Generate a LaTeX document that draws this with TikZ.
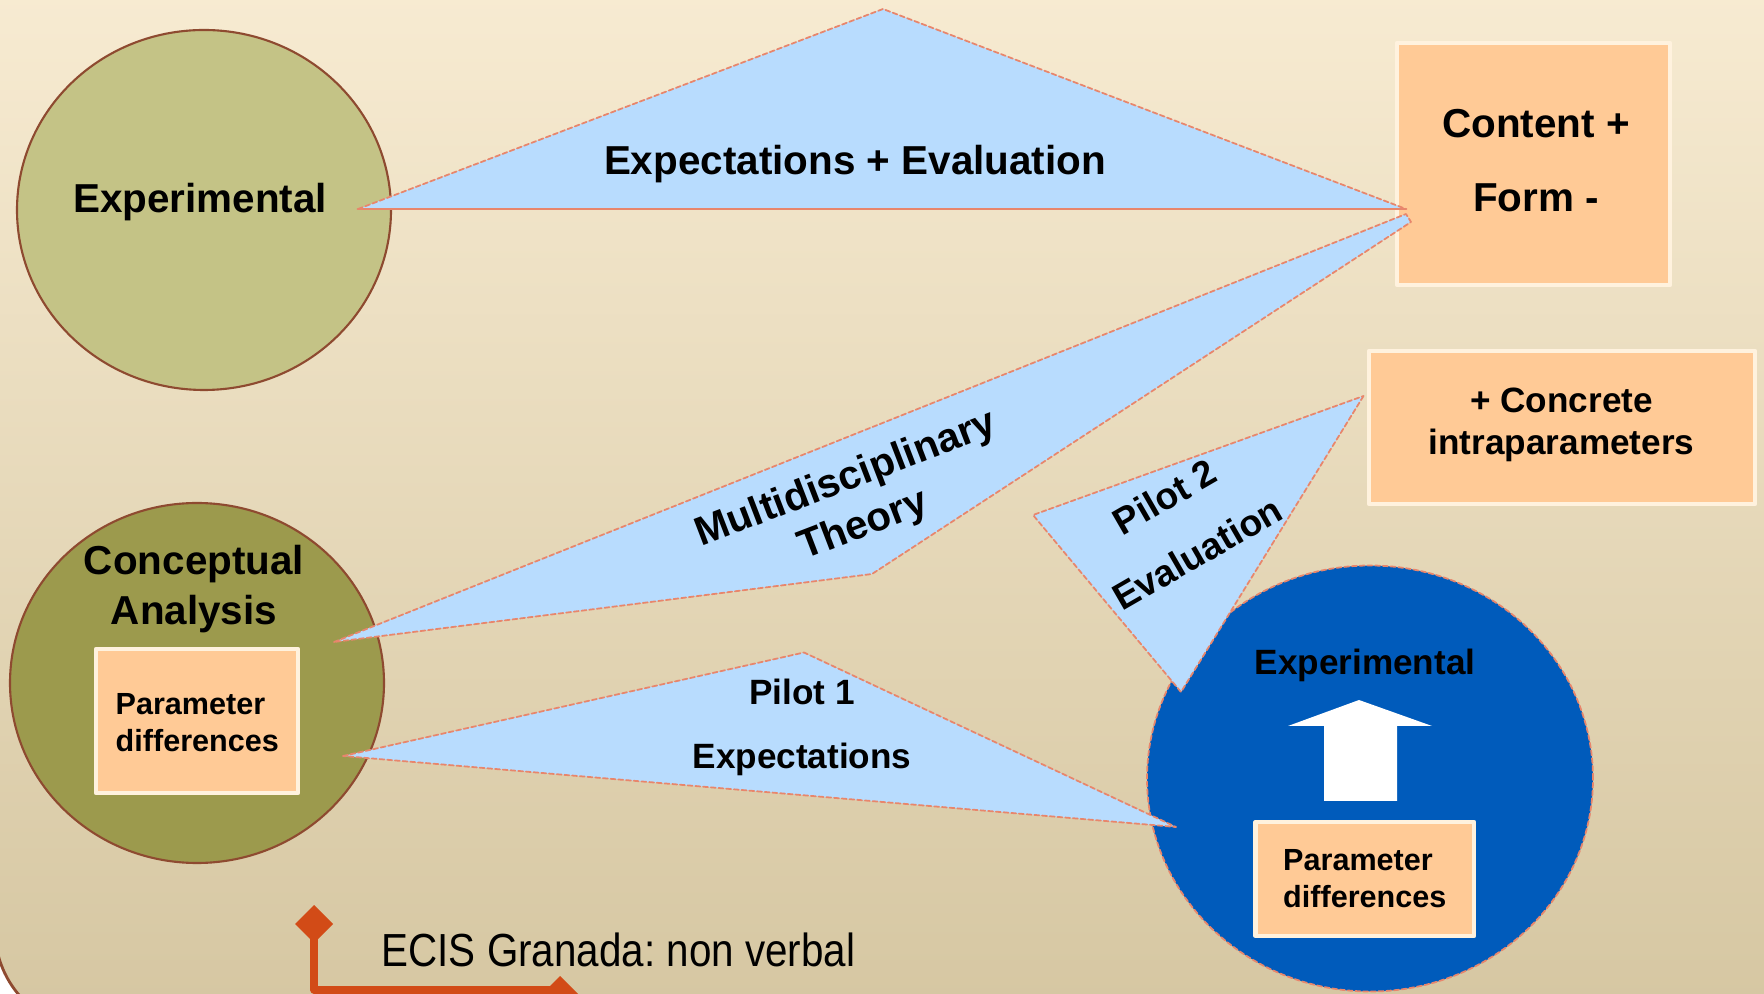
\documentclass[tikz,border=0pt]{standalone}
\usepackage{fontspec}
\setmainfont{Liberation Sans}
\newfontfamily\narrowfont[FakeStretch=0.87]{Liberation Sans}
\frenchspacing

\definecolor{slidetop}{HTML}{F8ECD3}
\definecolor{slidemid}{HTML}{F0E6CB}
\definecolor{slidebot}{HTML}{D5C6A1}
\definecolor{oliveA}{HTML}{C4C386}
\definecolor{oliveB}{HTML}{9C9A4D}
\definecolor{deepblue}{HTML}{005BBB}
\definecolor{skyblue}{HTML}{B8DCFE}
\definecolor{salmonline}{HTML}{E8866C}
\definecolor{peach}{HTML}{FFCA96}
\definecolor{peachedge}{HTML}{FFF2DE}
\definecolor{rimbrown}{HTML}{8E4A30}
\definecolor{rust}{HTML}{D24B17}

\begin{document}
\begin{tikzpicture}[
	line cap=round,
	line join=round,
	wedge/.style={fill=skyblue, draw=salmonline, line width=0.5pt, dash pattern=on 1.4pt off 0.8pt},
	notebox/.style={fill=peach, draw=peachedge, line width=1.2pt},
	bigtext/.style={font=\bfseries\fontsize{11.5}{14}\selectfont, align=center, inner sep=0pt},
	midtext/.style={font=\bfseries\fontsize{10}{12}\selectfont, align=center, inner sep=0pt},
	smalltext/.style={font=\bfseries\fontsize{8.7}{10.5}\selectfont, align=left, inner sep=0pt}
	]
	% Page and slide background
	\useasboundingbox (0,0) rectangle (17.64,9.93);
	\clip (0,0) rectangle (17.64,9.93);
	\fill[white] (0,0) rectangle (17.64,9.93);
	\shade[top color=slidetop, middle color=slidemid, bottom color=slidebot]
	(-0.05,10.3) [rounded corners=1cm] -- (-0.05,-0.37) -- (17.9,-0.37) [sharp corners] -- (17.9,10.3) -- cycle;
	\draw[rimbrown, line width=0.8pt]
	(-0.05,10.3) [rounded corners=1cm] -- (-0.05,-0.37) -- (17.9,-0.37) [sharp corners] -- (17.9,10.3) -- cycle;
	
	% Ellipses
	\draw[fill=oliveA, draw=rimbrown, line width=0.6pt] (2.04,7.83) ellipse (1.87 and 1.80);
	\draw[fill=oliveB, draw=rimbrown, line width=0.6pt] (1.97,3.10) ellipse (1.87 and 1.80);
	\draw[fill=deepblue, draw=salmonline, line width=0.5pt, dash pattern=on 1.4pt off 0.8pt]
	(13.70,2.145) ellipse (2.23 and 2.13);
	
	% Boxes inside the ellipses
	\draw[notebox] (0.96,2.00) rectangle (2.98,3.44);
	\draw[notebox] (12.555,0.57) rectangle (14.74,1.71);
	
	% White arrow, blue ellipse
	\fill[white] (13.24,1.92) -- (13.97,1.92) -- (13.97,2.67) -- (14.32,2.67) --
	(13.59,2.93) -- (12.88,2.67) -- (13.24,2.67) -- cycle;
	
	% Result boxes on the right
	\draw[notebox] (13.97,7.08) rectangle (16.70,9.50);
	\draw[notebox] (13.69,4.89) rectangle (17.55,6.42);
	
	% Wedges
	\draw[wedge] (3.58,7.84) -- (8.83,9.84) -- (14.06,7.84) -- cycle;
	\draw[salmonline, line width=0.8pt] (3.58,7.84) -- (14.06,7.84);
	
	\draw[wedge] (3.34,3.51) -- (14.06,7.79) -- (14.11,7.71) -- (8.72,4.19) -- cycle;
	
	\draw[wedge] (13.635,5.97) -- (11.81,3.01) -- (10.33,4.78) -- cycle;
	
	\draw[wedge] (3.43,2.37) -- (8.04,3.405) -- (11.76,1.66) -- cycle;
	
	% Texts
	\node[bigtext] (expTop) at (2.00,7.905) {Experimental};
	\node[bigtext] (conAna) at (1.94,4.04) {Conceptual\\Analysis};
	\node[smalltext, anchor=west] (parLeft) at (1.15,2.705) {Parameter\\differences};
	\node[midtext] (expBlue) at (13.65,3.28) {Experimental};
	\node[smalltext, anchor=west] (parRight) at (12.825,1.14) {Parameter\\differences};
	\node[bigtext] (conForm) at (15.36,8.32) {Content +\\[7pt]Form -};
	\node[midtext] (concrete) at (15.615,5.68) {+ Concrete\\intraparameters};
	\node[bigtext] (expEval) at (8.55,8.29) {Expectations + Evaluation};
	\node[bigtext, rotate=21] (multi) at (8.55,4.90) {Multidisciplinary\\Theory};
	\node[midtext, font=\bfseries\fontsize{10.6}{12.6}\selectfont, rotate=30] (pilotTwo) at (11.81,4.68) {Pilot 2\\[6pt]Evaluation};
	\node[midtext] (pilotOne) at (8.02,2.655) {Pilot 1\\[6pt]Expectations};
	
	% Footer
	\fill[rust] (3.14,0.88) -- (3.33,0.69) -- (3.14,0.50) -- (2.95,0.69) -- cycle;
	\draw[rust, line width=2pt, line cap=butt] (3.14,0.69) -- (3.14,0.03) -- (5.60,0.03);
	\fill[rust] (5.60,0.17) -- (5.79,-0.02) -- (5.60,-0.21) -- (5.41,-0.02) -- cycle;
	\node[anchor=base west, inner sep=0pt, font=\narrowfont\fontsize{13.2}{16}\selectfont] (footer)
	at (3.81,0.27) {ECIS Granada: non verbal};
\end{tikzpicture}
\end{document}
